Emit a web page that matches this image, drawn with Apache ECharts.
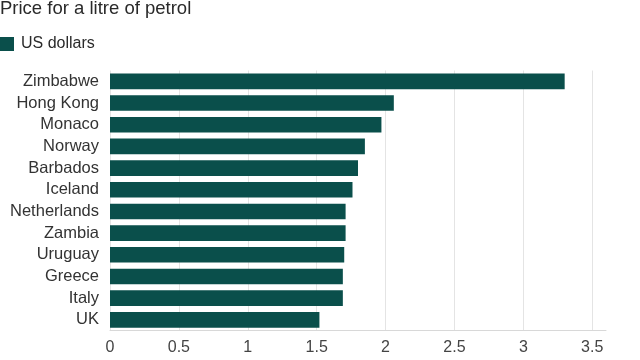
<!DOCTYPE html>
<html>
<head>
<meta charset="utf-8">
<script src="https://cdn.jsdelivr.net/npm/echarts@6/dist/echarts.min.js"></script>
<style>
html,body{margin:0;padding:0;background:#fff;}
#chart{width:640px;height:360px;}
</style>
</head>
<body>
<div id="chart"></div>
<script>
const titleText = 'Price for a litre of petrol';
const seriesName = 'US dollars';
const countries = ['Zimbabwe','Hong Kong','Monaco','Norway','Barbados','Iceland','Netherlands','Zambia','Uruguay','Greece','Italy','UK'];
const prices = [3.30, 2.06, 1.97, 1.85, 1.80, 1.76, 1.71, 1.71, 1.70, 1.69, 1.69, 1.52];
const xTicks = [0, 0.5, 1, 1.5, 2, 2.5, 3, 3.5];

const chart = echarts.init(document.getElementById('chart'), null, {renderer: 'canvas'});
const font = 'Liberation Sans, Arial, sans-serif';
chart.setOption({
  animation: false,
  backgroundColor: '#ffffff',
  textStyle: {fontFamily: font},
  title: {
    text: titleText,
    left: 0, top: -1, padding: 0,
    textStyle: {fontSize: 18.5, fontWeight: 'normal', color: '#2a2a2a', fontFamily: font}
  },
  legend: {
    left: 0, top: 36, padding: 0,
    icon: 'rect', itemWidth: 14, itemHeight: 14,
    textStyle: {fontSize: 16, color: '#2a2a2a', fontFamily: font, padding: [0, 0, 0, 2]},
    data: [seriesName]
  },
  grid: {left: 110, right: 34, top: 70.5, bottom: 29.3, containLabel: false},
  xAxis: {
    type: 'value', min: 0, max: 3.6, interval: 0.5,
    axisLine: {show: true, lineStyle: {color: '#d8d8d8', width: 1}},
    axisTick: {show: false},
    axisLabel: {
      fontSize: 16, color: '#444', margin: 9, fontFamily: font,
      showMaxLabel: false,
      formatter: v => (xTicks.indexOf(v) >= 0 ? String(v) : '')
    },
    splitLine: {show: true, showMaxLine: false, lineStyle: {color: '#e4e4e4', width: 1}}
  },
  yAxis: {
    type: 'category', inverse: true, data: countries,
    axisLine: {show: false}, axisTick: {show: false},
    axisLabel: {interval: 0, fontSize: 16.5, color: '#333', margin: 11, fontFamily: font},
    splitLine: {show: false}
  },
  series: [{
    name: seriesName, type: 'bar', data: prices,
    barCategoryGap: '28%',
    itemStyle: {color: '#0a4f4b'}
  }]
});
</script>
</body>
</html>
